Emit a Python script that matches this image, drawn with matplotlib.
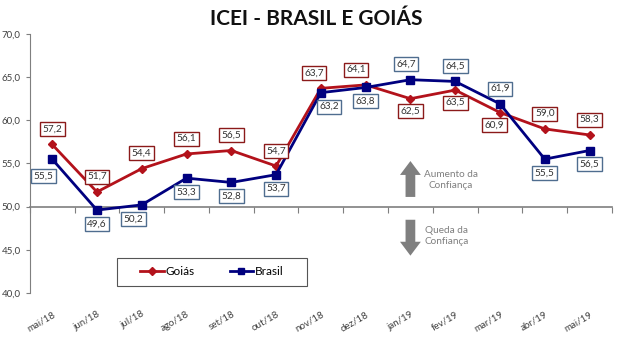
import matplotlib.pyplot as plt
from matplotlib.patches import Rectangle
from matplotlib.ticker import FuncFormatter

plt.rcParams['font.family'] = ['Lato', 'DejaVu Sans']

meses = ["mai/18", "jun/18", "jul/18", "ago/18", "set/18", "out/18", "nov/18",
         "dez/18", "jan/19", "fev/19", "mar/19", "abr/19", "mai/19"]
goias = [57.2, 51.7, 54.4, 56.1, 56.5, 54.7, 63.7, 64.1, 62.5, 63.5, 60.9, 59.0, 58.3]
brasil = [55.5, 49.6, 50.2, 53.3, 52.8, 53.7, 63.2, 63.8, 64.7, 64.5, 61.9, 55.5, 56.5]

cor_goias = "#B3121B"
cor_brasil = "#00007F"
cinza = "#7F7F7F"

# label offsets in points (default: Goiás above, Brasil below)
off_goias = {8: (0, -9), 9: (0, -9), 10: (-4, -9), 6: (-5, 11), 7: (-7, 11)}
off_brasil = {0: (-6, -12), 8: (-3, 11), 9: (0, 11), 10: (0, 11), 6: (6, -10), 2: (-6, -10)}

fig = plt.figure(figsize=(6.2, 3.5), dpi=100)
ax = fig.add_axes([0.048, 0.163, 0.939, 0.740])

x = list(range(len(meses)))
ax.plot(x, goias, color=cor_goias, lw=2, marker="D", ms=4.5, label="Goiás", zorder=3)
ax.plot(x, brasil, color=cor_brasil, lw=2, marker="s", ms=6, label="Brasil", zorder=3)


def rotulo(i, v, cor, dx, dy):
    ax.annotate(f"{v:.1f}".replace(".", ","), (i, v), xytext=(dx, dy),
                textcoords="offset points", ha="center", va="center",
                fontsize=7.2, color="#333333", zorder=5,
                bbox=dict(boxstyle="square,pad=0.25", fc="white", ec=cor, lw=1))


for i, v in enumerate(goias):
    dx, dy = off_goias.get(i, (0, 11))
    rotulo(i, v, "#8B1A1A", dx, dy)
for i, v in enumerate(brasil):
    dx, dy = off_brasil.get(i, (0, -10))
    rotulo(i, v, "#4F6D8F", dx, dy)

ax.set_xlim(-0.5, len(meses) - 0.5)
ax.set_ylim(40, 70)
ax.set_yticks([40, 45, 50, 55, 60, 65, 70])
ax.yaxis.set_major_formatter(FuncFormatter(lambda v, p: f"{v:.1f}".replace(".", ",")))
ax.tick_params(axis="y", labelsize=7, colors="#404040", length=3, color=cinza)

# horizontal axis crosses at 50
for s in ["top", "right"]:
    ax.spines[s].set_visible(False)
ax.spines["left"].set_color(cinza)
ax.spines["bottom"].set_position(("data", 50))
ax.spines["bottom"].set_color(cinza)
ax.spines["bottom"].set_linewidth(1.2)
ax.set_xticks([i - 0.5 for i in range(len(meses) + 1)])
ax.set_xticklabels([])
ax.tick_params(axis="x", length=4, color=cinza)

# month labels at the bottom
sec = ax.secondary_xaxis("bottom")
sec.spines["bottom"].set_visible(False)
sec.set_xticks(x)
sec.set_xticklabels(meses)
sec.tick_params(length=0, pad=12, labelsize=7, labelcolor="#404040")
for lbl in sec.get_xticklabels():
    lbl.set_rotation(30)
    lbl.set_ha("right")
    lbl.set_rotation_mode("anchor")

# confidence arrows
seta = dict(arrowstyle="simple,head_width=1.5,head_length=1.0,tail_width=0.7",
            color=cinza, lw=0)
ax.annotate("", xy=(8, 55.6), xytext=(8, 50.8), arrowprops=seta)
ax.annotate("", xy=(8, 44.0), xytext=(8, 48.8), arrowprops=seta)
ax.text(8.9, 53.1, "Aumento da\nConfiança", ha="center", va="center",
        fontsize=7.2, color=cinza, linespacing=1.3)
ax.text(8.8, 46.6, "Queda da\nConfiança", ha="center", va="center",
        fontsize=7.2, color=cinza, linespacing=1.3)

# legend frame
ax.add_patch(Rectangle((0.149, 0.027), 0.327, 0.108, transform=ax.transAxes,
                       fill=False, ec="#555555", lw=0.8))
ax.legend(loc="center", bbox_to_anchor=(0.3125, 0.081), ncol=2, frameon=False,
          fontsize=8.5, handlelength=2, handletextpad=0.1, columnspacing=3.0,
          markerscale=0.8)

fig.suptitle("ICEI - BRASIL E GOIÁS", x=0.51, y=0.975, fontsize=15,
             fontweight="bold", color="#111111")

fig.savefig("out.png", dpi=100)
